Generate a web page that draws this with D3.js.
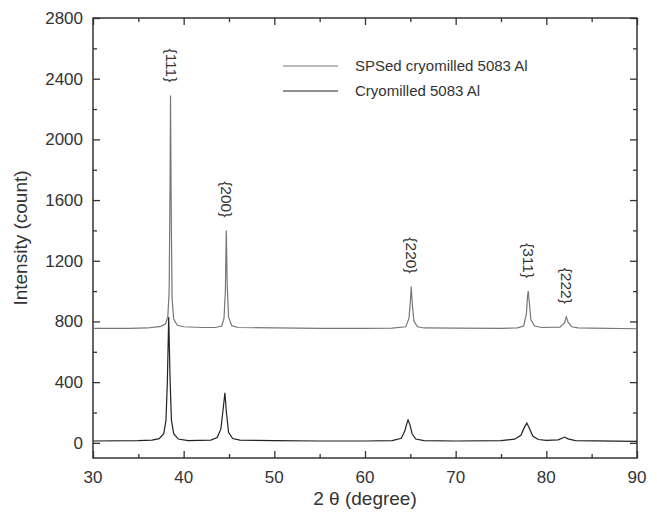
<!DOCTYPE html>
<html>
<head>
<meta charset="utf-8">
<script src="https://cdn.jsdelivr.net/npm/d3@7"></script>
<style>
  body { margin: 0; background: #fff; }
  text { font-family: "Liberation Sans", Arial, sans-serif; fill: #333; }
</style>
</head>
<body>
<svg width="657" height="514"></svg>
<script>
// SPSed cryomilled 5083 Al, [2theta, counts]
const spsed = [
  [30, 755], [34, 755], [36, 757], [36.8, 762], [37.5, 768], [38.0, 785], [38.25, 830],
  [38.4, 1000], [38.5, 1700], [38.55, 2290], [38.62, 1600], [38.72, 950], [38.9, 815],
  [39.3, 775], [40, 765], [42, 760], [43.5, 760], [44.2, 770], [44.45, 820], [44.6, 1000],
  [44.7, 1400], [44.8, 1050], [44.95, 830], [45.3, 772], [46, 760], [50, 757], [55, 755],
  [60, 755], [63, 756], [64.5, 765], [64.85, 820], [65.0, 930], [65.1, 1030], [65.22, 910],
  [65.4, 800], [65.8, 765], [66.5, 757], [70, 756], [75, 755], [76.8, 758], [77.5, 770],
  [77.8, 850], [77.92, 960], [78.0, 1000], [78.1, 940], [78.3, 810], [78.7, 770],
  [79.5, 760], [81.5, 762], [82.0, 790], [82.2, 830], [82.4, 795], [82.8, 765],
  [83.5, 758], [85, 756], [90, 752]
]

// Cryomilled 5083 Al
const cryo = [
  [30, 12], [35, 14], [36.5, 18], [37.3, 28], [37.8, 60], [38.05, 150], [38.2, 400],
  [38.35, 830], [38.5, 420], [38.65, 150], [38.9, 60], [39.4, 25], [40.5, 15], [43, 18],
  [43.7, 35], [44.1, 90], [44.35, 220], [44.55, 330], [44.7, 210], [44.95, 70],
  [45.4, 28], [46.2, 18], [50, 15], [55, 12], [60, 12], [63, 15], [64.0, 30],
  [64.4, 80], [64.6, 125], [64.75, 150], [64.95, 120], [65.2, 60], [65.6, 25],
  [66.5, 14], [70, 12], [75, 14], [76.5, 24], [77.2, 50], [77.6, 105], [77.85, 130],
  [78.1, 100], [78.5, 45], [79.1, 22], [80, 16], [81.3, 20], [81.8, 32], [82.0, 38],
  [82.4, 26], [83.2, 14], [90, 10]
]

const peakLabels = ['{111}', '{200}', '{220}', '{311}', '{222}']
const peakTheta = [38.55, 44.7, 65.1, 78.0, 82.2]
const peakCounts = [2290, 1400, 1030, 1000, 830]

const xTicks = [30, 40, 50, 60, 70, 80, 90]
const yTicks = [0, 400, 800, 1200, 1600, 2000, 2400, 2800]

const svg = d3.select('svg')
const mLeft = 93, mRight = 637, mTop = 18, mBottom = 458

let xScale = d3.scaleLinear().domain([30, 90]).range([mLeft, mRight])
let yScale = d3.scaleLinear().domain([-100, 2800]).range([mBottom, mTop])

// minor + major ticks, pointing inward on all four sides
let xMinor = d3.range(35, 90, 10)
let yMinor = d3.range(200, 2800, 400)

svg.append('g')
  .attr('transform', `translate(0,${mBottom})`)
  .call(d3.axisTop(xScale).tickValues(xTicks).tickSize(7).tickFormat(''))
svg.append('g')
  .attr('transform', `translate(0,${mBottom})`)
  .call(d3.axisTop(xScale).tickValues(xMinor).tickSize(4).tickFormat(''))
svg.append('g')
  .attr('transform', `translate(0,${mTop})`)
  .call(d3.axisBottom(xScale).tickValues(xTicks).tickSize(7).tickFormat(''))
svg.append('g')
  .attr('transform', `translate(0,${mTop})`)
  .call(d3.axisBottom(xScale).tickValues(xMinor).tickSize(4).tickFormat(''))
svg.append('g')
  .attr('transform', `translate(${mLeft},0)`)
  .call(d3.axisRight(yScale).tickValues(yTicks).tickSize(7).tickFormat(''))
svg.append('g')
  .attr('transform', `translate(${mLeft},0)`)
  .call(d3.axisRight(yScale).tickValues(yMinor).tickSize(4).tickFormat(''))
svg.append('g')
  .attr('transform', `translate(${mRight},0)`)
  .call(d3.axisLeft(yScale).tickValues(yTicks).tickSize(7).tickFormat(''))
svg.append('g')
  .attr('transform', `translate(${mRight},0)`)
  .call(d3.axisLeft(yScale).tickValues(yMinor).tickSize(4).tickFormat(''))

svg.selectAll('.domain').remove()
svg.selectAll('.tick line').attr('stroke', '#333').attr('stroke-width', 1.3)

// tick labels
svg.append('g').selectAll('text')
  .data(xTicks)
  .enter().append('text')
  .attr('x', d => xScale(d))
  .attr('y', mBottom + 25)
  .attr('text-anchor', 'middle')
  .attr('font-size', 17)
  .text(d => d)

svg.append('g').selectAll('text')
  .data(yTicks)
  .enter().append('text')
  .attr('x', mLeft - 10)
  .attr('y', d => yScale(d) + 6)
  .attr('text-anchor', 'end')
  .attr('font-size', 17)
  .text(d => d)

// frame
svg.append('rect')
  .attr('x', mLeft).attr('y', mTop)
  .attr('width', mRight - mLeft).attr('height', mBottom - mTop)
  .attr('fill', 'none').attr('stroke', '#333').attr('stroke-width', 1.5)

let line = d3.line()
  .x(d => xScale(d[0]))
  .y(d => yScale(d[1]))

svg.append('path')
  .datum(cryo)
  .attr('d', line)
  .attr('fill', 'none')
  .attr('stroke', '#222')
  .attr('stroke-width', 1.2)

svg.append('path')
  .datum(spsed)
  .attr('d', line)
  .attr('fill', 'none')
  .attr('stroke', '#777')
  .attr('stroke-width', 1.2)

// peak labels, rotated
svg.append('g').selectAll('text')
  .data(peakLabels)
  .enter().append('text')
  .attr('transform', (d, i) => `translate(${xScale(peakTheta[i]) - 5},${yScale(peakCounts[i]) - 13}) rotate(90)`)
  .attr('text-anchor', 'end')
  .attr('font-size', 15.5)
  .text(d => d)

// legend
const legendNames = ['SPSed cryomilled 5083 Al', 'Cryomilled 5083 Al']
const legendColors = ['#777', '#222']
let legend = svg.append('g').selectAll('g')
  .data(legendNames)
  .enter().append('g')
  .attr('transform', (d, i) => `translate(283,${66 + i * 25})`)
legend.append('line')
  .attr('x1', 0).attr('x2', 55)
  .attr('stroke', (d, i) => legendColors[i])
  .attr('stroke-width', 1.2)
legend.append('text')
  .attr('x', 72).attr('y', 5)
  .attr('font-size', 15)
  .text(d => d)

// axis titles
svg.append('text')
  .attr('transform', `translate(27,${(mTop + mBottom) / 2}) rotate(-90)`)
  .attr('text-anchor', 'middle')
  .attr('font-size', 19)
  .text('Intensity (count)')

svg.append('text')
  .attr('x', (mLeft + mRight) / 2)
  .attr('y', 505)
  .attr('text-anchor', 'middle')
  .attr('font-size', 19)
  .text('2 θ (degree)')
</script>
</body>
</html>
